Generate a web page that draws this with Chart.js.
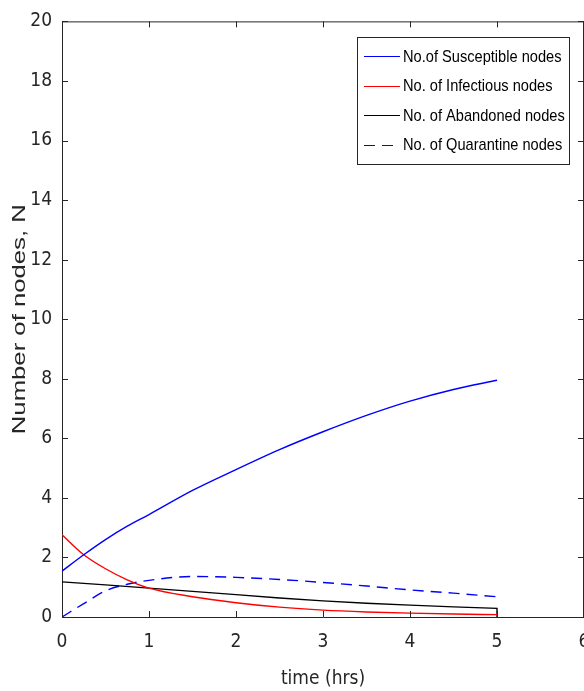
<!DOCTYPE html>
<html>
<head>
<meta charset="utf-8">
<script src="https://cdn.jsdelivr.net/npm/chart.js@4/dist/chart.umd.min.js"></script>
<style>
  html, body { margin: 0; padding: 0; background: #fff; overflow: hidden; }
  #wrap { width: 610px; height: 691px; }
</style>
</head>
<body>
<div id="wrap"><canvas id="chart"></canvas></div>
<script>
const timeHrs = [0, 0.25, 0.5, 0.75, 1, 1.5, 2, 2.5, 3, 3.5, 4, 4.5, 5];
const susceptible = [1.54, 2.09, 2.6, 3.05, 3.44, 4.25, 4.95, 5.62, 6.22, 6.77, 7.25, 7.64, 7.95];
const infectious = [2.76, 2.09, 1.62, 1.25, 0.97, 0.68, 0.48, 0.33, 0.23, 0.17, 0.13, 0.1, 0.08];
const abandonedTime = [0, 0.5, 1, 1.5, 2, 2.5, 3, 3.5, 4, 4.5, 5, 5];
const abandoned = [1.18, 1.08, 0.97, 0.86, 0.75, 0.64, 0.54, 0.46, 0.4, 0.34, 0.29, 0];
const quarantine = [0, 0.45, 0.88, 1.1, 1.23, 1.36, 1.33, 1.26, 1.16, 1.04, 0.91, 0.8, 0.68];

const xTicks = [0, 1, 2, 3, 4, 5, 6];
const yTicks = [0, 2, 4, 6, 8, 10, 12, 14, 16, 18, 20];
const yTitle = 'Number of nodes, N';

const narrow = "'Liberation Sans Narrow', 'DejaVu Sans Condensed', Arial, sans-serif";
const sans = "'Liberation Sans', Arial, sans-serif";
const axisColor = '#262626';

const toPoints = (xs, ys) => ys.map((y, i) => ({ x: xs[i], y }));

// text squeezed or stretched to a given width
function fitText(ctx, text, x, y, width) {
  const w = ctx.measureText(text).width;
  ctx.save();
  ctx.translate(x, y);
  ctx.scale(width / w, 1);
  ctx.fillText(text, 0, 0);
  ctx.restore();
}

// MATLAB style box: top/right border, inward ticks, legend, y title
const matlabBox = {
  id: 'matlabBox',
  afterDraw(chart) {
    const { ctx, chartArea: a, scales } = chart;
    ctx.save();
    ctx.strokeStyle = axisColor;
    ctx.lineWidth = 1;
    ctx.beginPath();
    ctx.moveTo(a.left, a.top + 0.5);
    ctx.lineTo(a.right, a.top + 0.5);
    ctx.moveTo(a.right - 0.5, a.top);
    ctx.lineTo(a.right - 0.5, a.bottom);
    const t = 6;
    xTicks.forEach((v) => {
      const px = Math.round(scales.x.getPixelForValue(v)) + 0.5;
      ctx.moveTo(px, a.bottom);
      ctx.lineTo(px, a.bottom - t);
      ctx.moveTo(px, a.top);
      ctx.lineTo(px, a.top + t);
    });
    yTicks.forEach((v) => {
      const py = Math.round(scales.y.getPixelForValue(v)) + 0.5;
      ctx.moveTo(a.left, py);
      ctx.lineTo(a.left + t, py);
      ctx.moveTo(a.right, py);
      ctx.lineTo(a.right - t, py);
    });
    ctx.stroke();

    // y title, wide like the original
    ctx.save();
    ctx.fillStyle = axisColor;
    ctx.font = '18px ' + sans;
    ctx.textBaseline = 'middle';
    ctx.translate(20, (a.top + a.bottom) / 2);
    ctx.rotate(-Math.PI / 2);
    fitText(ctx, yTitle, -115, 0, 230);
    ctx.restore();

    // legend
    const bx = 357, by = 37, bw = 212, bh = 127;
    ctx.fillStyle = '#fff';
    ctx.fillRect(bx, by, bw, bh);
    ctx.strokeStyle = axisColor;
    ctx.strokeRect(bx + 0.5, by + 0.5, bw, bh);
    ctx.font = '17px ' + sans;
    ctx.textBaseline = 'middle';
    chart.data.datasets.forEach((ds, i) => {
      const y = by + 19 + i * 29.5;
      ctx.strokeStyle = ds.borderColor;
      ctx.lineWidth = 1;
      ctx.setLineDash(ds.borderDash || []);
      ctx.beginPath();
      ctx.moveTo(364, Math.round(y) + 0.5);
      ctx.lineTo(400, Math.round(y) + 0.5);
      ctx.stroke();
      ctx.setLineDash([]);
      ctx.fillStyle = '#000';
      fitText(ctx, ds.label, 403, y + 1, ctx.measureText(ds.label).width * 0.86);
    });
    ctx.restore();
  },
};

new Chart(document.getElementById('chart'), {
  type: 'line',
  data: {
    datasets: [
      {
        label: 'No.of Susceptible nodes',
        data: toPoints(timeHrs, susceptible),
        borderColor: '#0000ff',
        borderWidth: 1.4,
      },
      {
        label: 'No. of Infectious nodes',
        data: toPoints(timeHrs, infectious),
        borderColor: '#ff0000',
        borderWidth: 1.4,
      },
      {
        label: 'No. of Abandoned nodes',
        data: toPoints(abandonedTime, abandoned),
        borderColor: '#000000',
        borderWidth: 1.4,
        cubicInterpolationMode: 'default',
        tension: 0,
      },
      {
        label: 'No. of Quarantine nodes',
        data: toPoints(timeHrs, quarantine),
        borderColor: '#0000ff',
        borderWidth: 1.4,
        borderDash: [11, 7],
      },
    ],
  },
  options: {
    responsive: true,
    maintainAspectRatio: false,
    animation: false,
    layout: { padding: { top: 17, right: 26, left: 0, bottom: 0 } },
    elements: {
      point: { radius: 0 },
      line: { cubicInterpolationMode: 'monotone', fill: false },
    },
    plugins: {
      legend: { display: false },
      tooltip: { enabled: false },
    },
    scales: {
      x: {
        type: 'linear',
        min: 0,
        max: 6,
        afterFit: (s) => { s.height = 74; },
        afterBuildTicks: (s) => { s.ticks = xTicks.map((v) => ({ value: v })); },
        grid: { display: false, drawTicks: false },
        border: { display: true, color: axisColor, width: 1 },
        ticks: {
          padding: 14,
          color: axisColor,
          font: { family: narrow, size: 19 },
        },
        title: {
          display: true,
          text: 'time (hrs)',
          color: axisColor,
          font: { family: narrow, size: 19 },
          padding: { top: 0, bottom: 1 },
        },
      },
      y: {
        min: 0,
        max: 20,
        afterFit: (s) => { s.width = 62; },
        afterBuildTicks: (s) => { s.ticks = yTicks.map((v) => ({ value: v })); },
        grid: { display: false, drawTicks: false },
        border: { display: true, color: axisColor, width: 1 },
        ticks: {
          padding: 10,
          color: axisColor,
          font: { family: narrow, size: 19 },
        },
        title: { display: false },
      },
    },
  },
  plugins: [matlabBox],
});
</script>
</body>
</html>
